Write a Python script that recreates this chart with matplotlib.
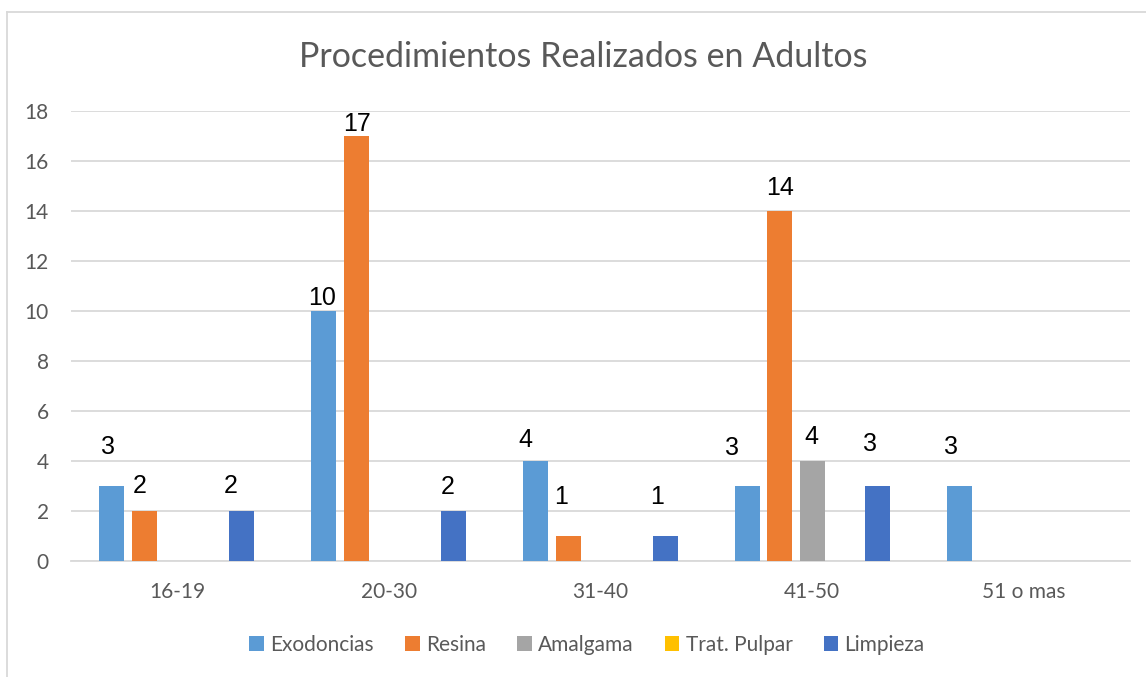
import numpy as np
import matplotlib
matplotlib.use("Agg")
import matplotlib.pyplot as plt
from matplotlib.lines import Line2D

# ---- data ----
grupos = ["16-19", "20-30", "31-40", "41-50", "51 o mas"]
series = ["Exodoncias", "Resina", "Amalgama", "Trat. Pulpar", "Limpieza"]
exodoncias = [3, 10, 4, 3, 3]
resina = [2, 17, 1, 14, 0]
amalgama = [0, 0, 0, 4, 0]
trat_pulpar = [0, 0, 0, 0, 0]
limpieza = [2, 2, 1, 3, 0]
valores = [exodoncias, resina, amalgama, trat_pulpar, limpieza]

colores = ["#5B9BD5", "#ED7D31", "#A5A5A5", "#FFC000", "#4472C4"]
gris = "#595959"

# label nudges (pixels) for the non-zero labels, keyed by (category, series)
ajustes = {
    (0, 0): (-4, 39), (1, 0): (-5, 25), (4, 0): (-11, 25),
    (0, 1): (-2, 13), (1, 1): (1, 12), (4, 1): (-6, 24),
    (0, 2): (-10, 21), (1, 2): (-7, 39), (4, 2): (-8, 39),
    (0, 3): (-15, 38), (1, 3): (0, 23), (2, 3): (-1, 24), (4, 3): (-7, 42),
    (0, 4): (-8, 39),
}

W, H = 1146, 677
fig = plt.figure(figsize=(W / 100, H / 100), dpi=100)
ax = fig.add_axes([71 / W, (H - 561) / H, (1130 - 71) / W, (561 - 111) / H])

x = np.arange(len(grupos))
paso = 0.1533
ancho = 0.118
for j, (nombre, vals) in enumerate(zip(series, valores)):
    pos = x + (j - 2) * paso
    ax.bar(pos, vals, width=ancho, color=colores[j], label=nombre, zorder=3)
    for i, v in enumerate(vals):
        if v == 0:
            continue
        dx, dy = ajustes.get((j, i), (0, 20))
        ax.annotate(str(v), (pos[i], v), xytext=(dx, dy), textcoords="offset pixels",
                    ha="center", va="center", fontsize=18, color="black",
                    family="Liberation Sans", zorder=4)

ax.set_xlim(-0.5, len(grupos) - 0.5)
ax.set_ylim(0, 18)
ax.set_yticks(range(0, 19, 2))
ax.set_xticks(x)
ax.set_xticklabels(grupos)
ax.yaxis.grid(True, color="#D9D9D9", linewidth=1.3, zorder=0)
ax.tick_params(axis="both", length=0, colors=gris, labelsize=15)
ax.tick_params(axis="x", pad=15)
ax.tick_params(axis="y", pad=16)
for lbl in ax.get_xticklabels() + ax.get_yticklabels():
    lbl.set_family("Lato")
for s in ["top", "right", "left"]:
    ax.spines[s].set_visible(False)
ax.spines["bottom"].set_color("#D9D9D9")
ax.spines["bottom"].set_linewidth(1.3)

fig.text(583 / W, 1 - 57 / H, "Procedimientos Realizados en Adultos", ha="center", va="center",
         fontsize=24.5, color=gris, family="Lato")

leg = fig.legend(loc="center", bbox_to_anchor=(587 / W, 1 - 645 / H), ncol=5, frameon=False,
                 prop={"family": "Lato", "size": 15}, handlelength=0.7, handleheight=0.7,
                 handletextpad=0.3, columnspacing=1.5, labelcolor=gris)

# chart-area border (top and left edges visible)
fig.add_artist(Line2D([7 / W, 1], [1 - 12 / H, 1 - 12 / H], color="#D9D9D9", linewidth=1.3))
fig.add_artist(Line2D([7 / W, 7 / W], [0, 1 - 12 / H], color="#D9D9D9", linewidth=1.3))

fig.savefig("out.png", dpi=100)
